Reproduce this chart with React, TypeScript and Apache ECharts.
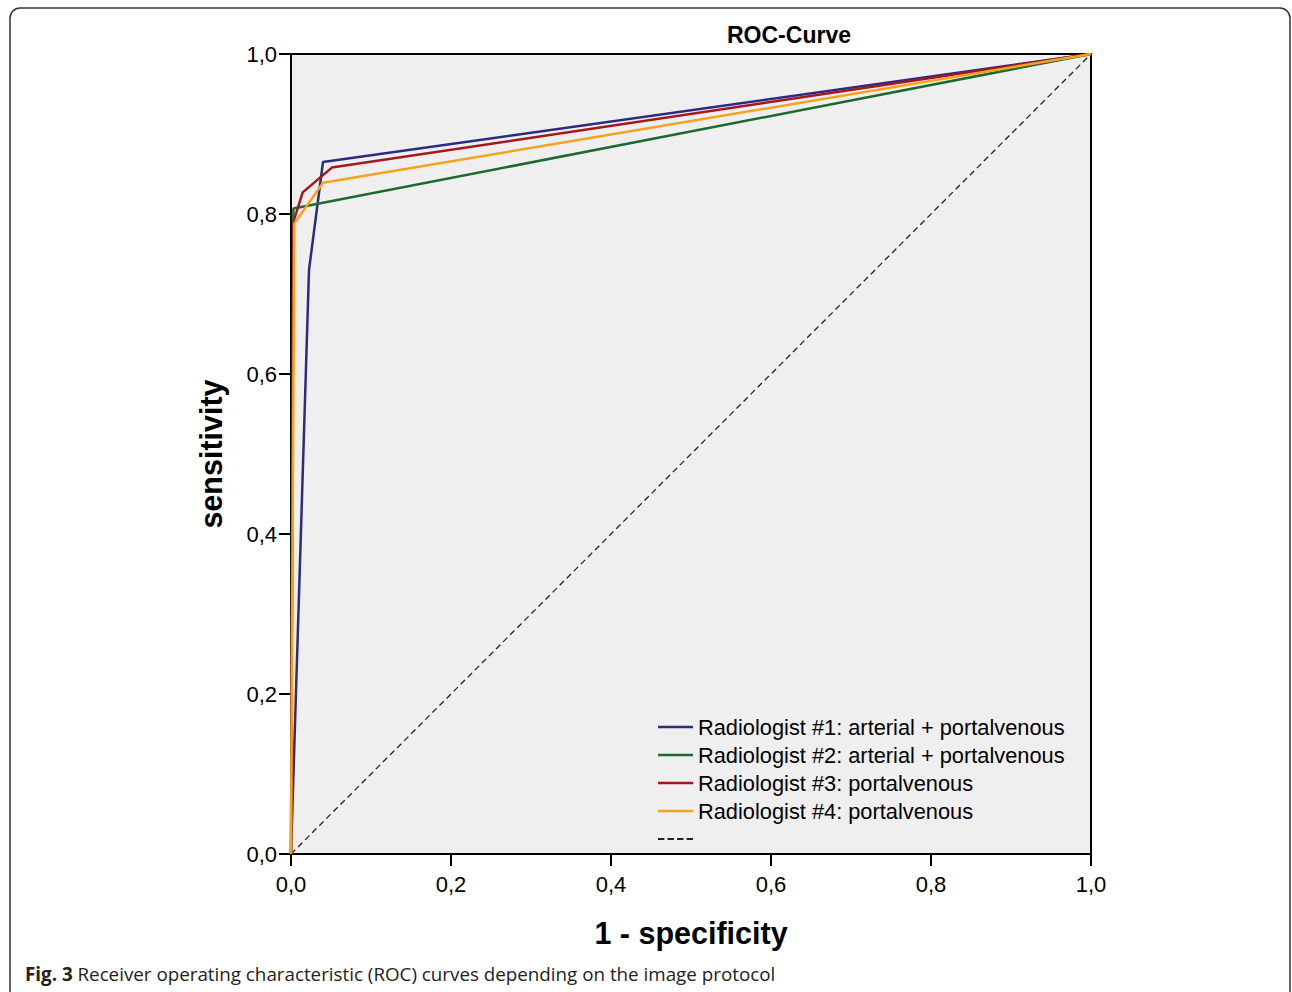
import React, { useEffect, useRef } from "react";
import * as echarts from "echarts";

const seriesNames = [
  "Radiologist #1: arterial + portalvenous",
  "Radiologist #2: arterial + portalvenous",
  "Radiologist #3: portalvenous",
  "Radiologist #4: portalvenous",
];
const seriesColors = ["#2b2c80", "#1b6a30", "#a8161d", "#f7a21e"];

// 1 - specificity (x) and sensitivity (y) per curve
const r1X = [0, 0.0225, 0.04, 1];
const r1Y = [0, 0.73, 0.865, 1];
const r2X = [0, 0.003, 1];
const r2Y = [0, 0.807, 1];
const r3X = [0, 0.003, 0.0146, 0.051, 1];
const r3Y = [0, 0.79, 0.827, 0.858, 1];
const r4X = [0, 0.004, 0.04, 1];
const r4Y = [0, 0.788, 0.839, 1];
const refX = [0, 1];
const refY = [0, 1];

const xTicks = [0, 0.2, 0.4, 0.6, 0.8, 1.0];

const zip = (xs: number[], ys: number[]) => xs.map((x, i) => [x, ys[i]]);

export default function App() {
  const ref = useRef<HTMLDivElement>(null);
  useEffect(() => {
    if (!ref.current) return;
    const chart = echarts.init(ref.current, null, { renderer: "svg" });
    const curves = [zip(r1X, r1Y), zip(r2X, r2Y), zip(r3X, r3Y), zip(r4X, r4Y)];
    const fmt = (v: number) => v.toFixed(1).replace(".", ",");
    const font = "'Liberation Sans', Arial, sans-serif";
    const capFont = "'Open Sans', 'Noto Sans', sans-serif";
    const dashIcon = "path://M0,0h6v2h-6zM9,0h6v2h-6zM18,0h6v2h-6zM27,0h6v2h-6z";
    chart.setOption({
      animation: false,
      backgroundColor: "#ffffff",
      textStyle: { fontFamily: font, color: "#000" },
      title: {
        text: "ROC-Curve",
        left: 722,
        top: 18,
        textStyle: { fontSize: 23, fontWeight: "bold", color: "#000", fontFamily: font },
      },
      grid: {
        left: 291,
        top: 54,
        width: 800,
        height: 800,
        show: true,
        backgroundColor: "#efefef",
        borderColor: "#000",
        borderWidth: 2,
      },
      legend: {
        orient: "vertical",
        left: 653,
        top: 711,
        itemWidth: 35,
        itemHeight: 2.5,
        itemGap: 6,
        data: [
          ...seriesNames.map((n) => ({ name: n, icon: "rect" })),
          { name: " ", icon: dashIcon },
        ],
        textStyle: { fontSize: 21.8, color: "#000", fontFamily: font, lineHeight: 20 },
      },
      xAxis: {
        type: "value",
        min: 0,
        max: 1,
        interval: 0.2,
        name: "1 - specificity",
        nameLocation: "middle",
        nameGap: 63,
        nameTextStyle: { fontSize: 30.5, fontWeight: "bold", color: "#000", fontFamily: font },
        axisLine: { show: true, lineStyle: { color: "#000", width: 2 } },
        axisTick: { show: true, length: 12, lineStyle: { color: "#000", width: 2 } },
        axisLabel: {
          fontSize: 22,
          color: "#000",
          fontFamily: font,
          margin: 19,
          formatter: (v: number) => (xTicks.some((t) => Math.abs(t - v) < 1e-6) ? fmt(v) : ""),
        },
        splitLine: { show: false },
      },
      yAxis: {
        type: "value",
        min: 0,
        max: 1,
        interval: 0.2,
        name: "sensitivity",
        nameLocation: "middle",
        nameGap: 65,
        nameTextStyle: { fontSize: 30.5, fontWeight: "bold", color: "#000", fontFamily: font },
        axisLine: { show: true, lineStyle: { color: "#000", width: 2 } },
        axisTick: { show: true, length: 12, lineStyle: { color: "#000", width: 2 } },
        axisLabel: { fontSize: 22, color: "#000", fontFamily: font, margin: 14, formatter: fmt },
        splitLine: { show: false },
      },
      series: [
        {
          name: " ",
          type: "line",
          data: zip(refX, refY),
          symbol: "none",
          showSymbol: false,
          lineStyle: { color: "#222", width: 1.3, type: [6, 4] },
          itemStyle: { color: "#222" },
          silent: true,
          z: 1,
        },
        ...[1, 2, 3, 0].map((i) => ({
          name: seriesNames[i],
          type: "line",
          data: curves[i],
          symbol: "none",
          showSymbol: false,
          lineStyle: { color: seriesColors[i], width: 2.5 },
          itemStyle: { color: seriesColors[i] },
          z: 2 + i,
        })),
      ],
      graphic: [
        {
          type: "rect",
          shape: { x: 10, y: 8, width: 1280, height: 1010, r: 10 },
          style: { fill: "none", stroke: "#333", lineWidth: 1.5 },
          silent: true,
        },
        {
          type: "text",
          left: 25,
          top: 964,
          style: {
            text: "{b|Fig. 3} Receiver operating characteristic (ROC) curves depending on the image protocol",
            fontSize: 18.8,
            fontFamily: capFont,
            fill: "#222",
            rich: {
              b: { fontWeight: "bold", fontSize: 18.8, fontFamily: capFont, fill: "#222" },
            },
          },
        },
      ],
    });
    return () => chart.dispose();
  }, []);
  return (
    <div
      ref={ref}
      style={{ position: "fixed", left: 0, top: 0, width: 1292, height: 992 }}
    />
  );
}
